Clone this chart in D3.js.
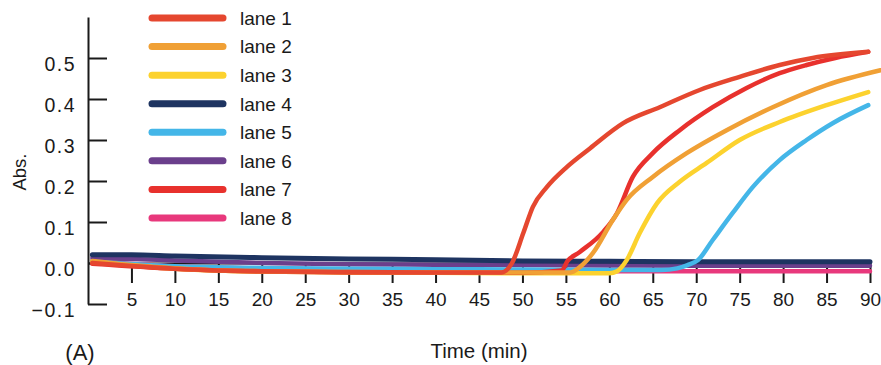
<!DOCTYPE html>
<html>
<head>
<meta charset="utf-8">
<script src="https://cdn.jsdelivr.net/npm/d3@7"></script>
<style>
  body { margin: 0; background: #fff; }
  text { font-family: "Liberation Sans", Arial, sans-serif; fill: #1a1a1a; }
</style>
</head>
<body>
<div id="chart"></div>
<script>
// lanes and their colours
const laneNames = ['lane 1', 'lane 2', 'lane 3', 'lane 4', 'lane 5', 'lane 6', 'lane 7', 'lane 8'];
const laneColors = ['#e5472f', '#f0a035', '#fcd22e', '#1e3461', '#44b6e8', '#6b3f8c', '#e8312d', '#e8387c'];

// absorbance curves, [time (min), Abs.]
const lane1 = [[0.5, 0.0], [5, -0.007], [10, -0.014], [15, -0.018], [20, -0.02], [30, -0.022], [40, -0.023], [47.6, -0.023],
  [48.8, 0.0], [50.1, 0.073], [51.2, 0.137], [52.8, 0.185], [55.1, 0.234], [57.8, 0.28], [61.6, 0.341], [65.8, 0.38],
  [70.4, 0.422], [75, 0.454], [79.6, 0.483], [83.4, 0.5], [89.8, 0.515]];
const lane2 = [[0.5, 0.005], [5, -0.005], [10, -0.013], [15, -0.018], [20, -0.02], [30, -0.022], [40, -0.023], [50, -0.023],
  [55.5, -0.023], [56.6, -0.01], [58.1, 0.024], [60.4, 0.105], [62, 0.154], [65, 0.21], [68.9, 0.268], [73.5, 0.324],
  [78.8, 0.38], [85, 0.434], [91.2, 0.47]];
const lane3 = [[0.5, 0.003], [5, -0.006], [10, -0.014], [20, -0.021], [30, -0.023], [40, -0.024], [50, -0.025], [60, -0.025],
  [60.9, -0.02], [62, 0.007], [63.5, 0.073], [65.5, 0.146], [68.1, 0.198], [71.2, 0.244], [75, 0.3], [79.6, 0.344],
  [85, 0.385], [89.8, 0.417]];
const lane4 = [[0.5, 0.02], [5, 0.02], [10, 0.017], [20, 0.013], [30, 0.01], [40, 0.008], [50, 0.005], [60, 0.004],
  [70, 0.003], [80, 0.003], [90, 0.003]];
const lane5 = [[0.5, 0.003], [10, -0.008], [20, -0.012], [30, -0.014], [40, -0.015], [50, -0.016], [60, -0.017], [66, -0.017],
  [67.8, -0.013], [69, -0.005], [70.2, 0.007], [71.9, 0.056], [74.2, 0.122], [76.5, 0.185], [79.6, 0.251], [82.7, 0.3],
  [85.7, 0.341], [89.8, 0.385]];
const lane6 = [[0.5, 0.012], [5, 0.01], [10, 0.006], [20, 0.0], [30, -0.003], [40, -0.004], [50, -0.005], [60, -0.006],
  [70, -0.007], [80, -0.007], [90, -0.007]];
const lane7 = [[0.5, -0.002], [10, -0.014], [20, -0.021], [30, -0.023], [40, -0.024], [50, -0.024], [54.5, -0.018],
  [55.2, 0.005], [56.6, 0.027], [59.3, 0.076], [60.9, 0.122], [62.7, 0.21], [65, 0.268], [68.1, 0.324], [71.9, 0.38],
  [75.8, 0.427], [79.6, 0.463], [82.7, 0.483], [86, 0.5], [89.8, 0.515]];
const lane8 = [[0.5, 0.005], [10, -0.008], [20, -0.013], [30, -0.016], [40, -0.018], [50, -0.019], [60, -0.02], [70, -0.02],
  [80, -0.02], [90, -0.02]];

const laneData = [lane1, lane2, lane3, lane4, lane5, lane6, lane7, lane8];
// back to front
const drawOrder = [7, 5, 3, 4, 2, 6, 1, 0];

const xTicks = d3.range(5, 91, 5);
const yTicks = [-0.1, 0.0, 0.1, 0.2, 0.3, 0.4, 0.5];

const width = 881;
const height = 365;

const svg = d3.select('#chart').append('svg')
  .attr('width', width)
  .attr('height', height);

const x = d3.scaleLinear().domain([0, 90]).range([88, 870]);
const y = d3.scaleLinear().domain([-0.1, 0.6]).range([304, 17]);

// x axis along Abs. = 0, ticks pointing down
const xAxis = svg.append('g')
  .attr('transform', `translate(0, ${y(0)})`)
  .call(d3.axisBottom(x).tickValues(xTicks).tickSizeInner(20).tickSizeOuter(0).tickPadding(10));
xAxis.selectAll('text').style('font-size', '19px');

// y axis, ticks pointing into the plot
const yAxis = svg.append('g')
  .attr('transform', `translate(${x(0)}, 0)`)
  .call(d3.axisLeft(y).tickValues(yTicks).tickSizeInner(-19).tickSizeOuter(0).tickPadding(12)
    .tickFormat(d3.format('.1f')));
yAxis.selectAll('text')
  .style('font-size', '19.5px')
  .attr('letter-spacing', '1.5px')
  .attr('dy', '0.62em');

svg.selectAll('.domain, .tick line').attr('stroke', '#1a1a1a').attr('stroke-width', 2);

// curves
const line = d3.line()
  .x((d) => x(d[0]))
  .y((d) => y(d[1]))
  .curve(d3.curveMonotoneX);

svg.append('g')
  .selectAll('path')
  .data(drawOrder)
  .join('path')
  .attr('fill', 'none')
  .attr('stroke', (i) => laneColors[i])
  .attr('stroke-width', (i) => (i === 3 ? 5 : 4.5))
  .attr('stroke-linecap', 'round')
  .attr('stroke-linejoin', 'round')
  .attr('d', (i) => line(laneData[i]));

// legend
const legendY = d3.scalePoint().domain(laneNames).range([18, 218]);
const legend = svg.append('g')
  .selectAll('g')
  .data(laneNames)
  .join('g')
  .attr('transform', (d) => `translate(0, ${legendY(d)})`);

legend.append('line')
  .attr('x1', 152)
  .attr('x2', 223)
  .attr('stroke', (d, i) => laneColors[i])
  .attr('stroke-width', 7)
  .attr('stroke-linecap', 'round');

legend.append('text')
  .attr('x', 240)
  .attr('dy', '0.36em')
  .style('font-size', '19px')
  .text((d) => d);

// axis titles
svg.append('text')
  .attr('transform', 'translate(26, 172) rotate(-90)')
  .attr('text-anchor', 'middle')
  .style('font-size', '18.5px')
  .text('Abs.');

svg.append('text')
  .attr('x', 479)
  .attr('y', 358)
  .attr('text-anchor', 'middle')
  .style('font-size', '20.5px')
  .text('Time (min)');

svg.append('text')
  .attr('x', 80)
  .attr('y', 360)
  .attr('text-anchor', 'middle')
  .style('font-size', '22px')
  .text('(A)');
</script>
</body>
</html>
